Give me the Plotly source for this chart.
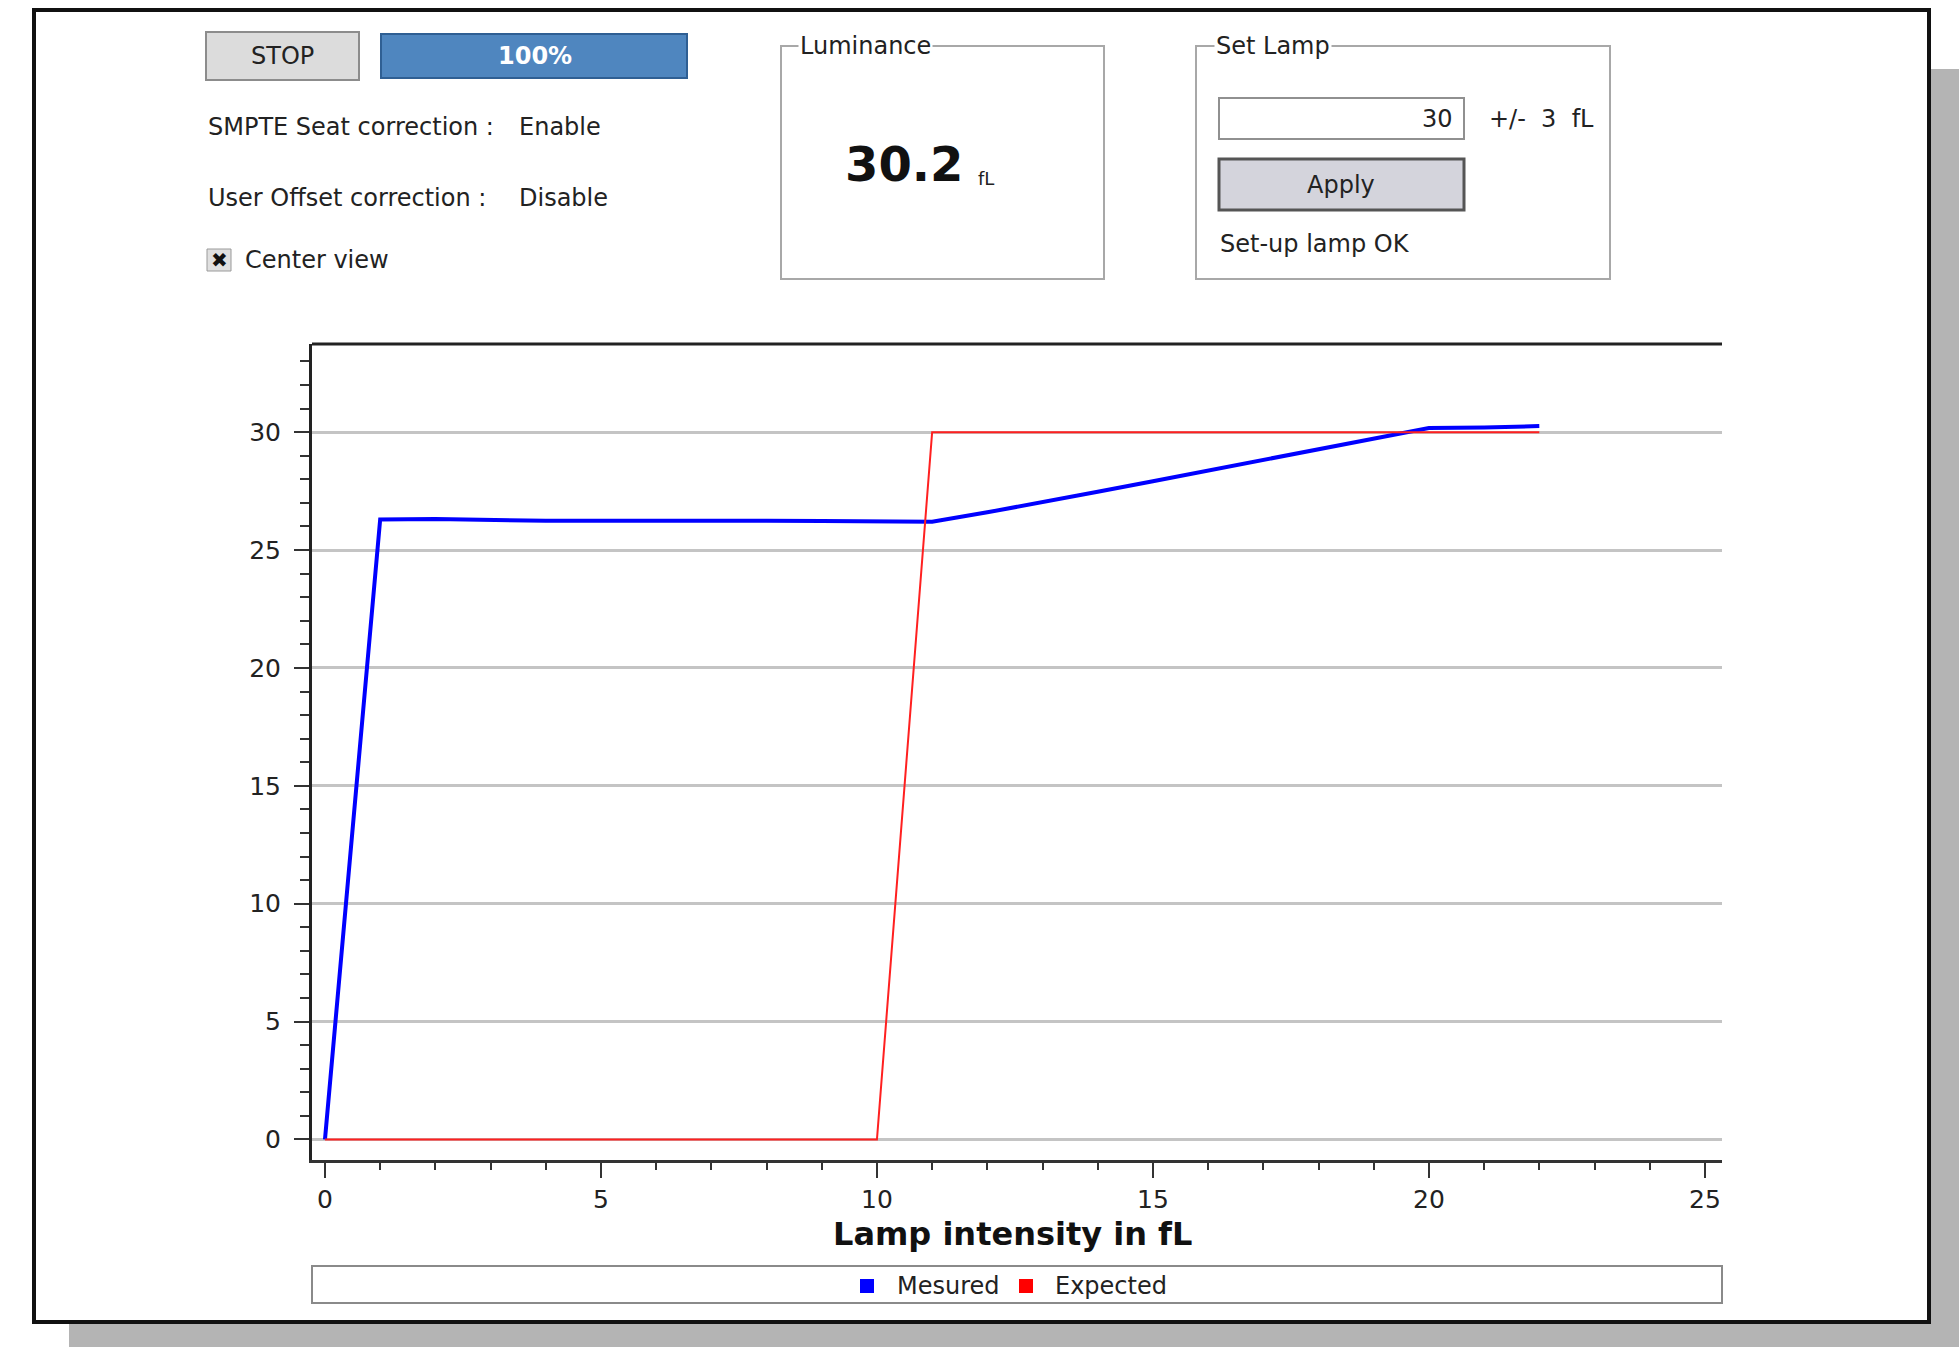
import plotly.graph_objects as go

# data
lamp_measured = list(range(23))
lum_measured = [0, 26.3, 26.32, 26.27, 26.24, 26.24, 26.25, 26.26, 26.24, 26.23, 26.22, 26.2,
                26.6, 27.02, 27.47, 27.92, 28.37, 28.82, 29.27, 29.72, 30.18, 30.2, 30.26]
lamp_expected = [0, 10, 11, 22]
lum_expected = [0, 0, 30, 30]
x_ticks = [0, 5, 10, 15, 20, 25]
y_ticks = [0, 5, 10, 15, 20, 25, 30]

W, H = 1959, 1347
FONT = "DejaVu Sans"
TXT = "#222222"


def px(x):
    return x / W


def py(y):
    return 1 - y / H


def box(x0, y0, x1, y1, fill="rgba(0,0,0,0)", line="#a8a8a8", width=2):
    return dict(type="rect", xref="paper", yref="paper", layer="below",
                x0=px(x0), x1=px(x1), y0=py(y1), y1=py(y0),
                fillcolor=fill, line=dict(color=line, width=width))


def label(x, y, text, size=24, anchor="left", color=TXT, bold=False, bg=None):
    if bold:
        text = "<b>" + text + "</b>"
    a = dict(xref="paper", yref="paper", x=px(x), y=py(y), text=text, showarrow=False,
             xanchor=anchor, yanchor="middle", font=dict(family=FONT, size=size, color=color))
    if bg:
        a["bgcolor"] = bg
    return a


fig = go.Figure()

fig.add_trace(go.Scatter(
    x=lamp_measured, y=lum_measured, mode="lines", name="Mesured",
    line=dict(color="#0000ff", width=4)
))
fig.add_trace(go.Scatter(
    x=lamp_expected, y=lum_expected, mode="lines", name="Expected",
    line=dict(color="#ff2020", width=2)
))

shapes = [
    # window shadow + frame
    dict(type="rect", xref="paper", yref="paper", layer="below",
         x0=px(69), x1=1, y0=0, y1=py(69), fillcolor="#b4b4b4", line=dict(width=0)),
    dict(type="rect", xref="paper", yref="paper", layer="below",
         x0=px(34), x1=px(1929), y0=py(1322), y1=py(10), fillcolor="white",
         line=dict(color="#111111", width=4)),
    # buttons / widgets
    box(206, 32, 359, 80, fill="#dcdcdc", line="#8c8c8c"),
    box(381, 34, 687, 78, fill="#4f86bf", line="#2f5f93"),
    box(207, 249, 231, 271, fill="#e0e0e0", line="#9a9a9a", width=1),
    box(781, 46, 1104, 279),
    box(1196, 46, 1610, 279),
    box(1219, 98, 1464, 139, fill="white", line="#909090"),
    box(1219, 159, 1464, 210, fill="#d4d4dc", line="#555555", width=3),
    # plot top border
    dict(type="line", xref="paper", yref="paper", x0=px(312), x1=px(1722), y0=py(344), y1=py(344),
         line=dict(color="#222222", width=3)),
    # legend box and markers
    box(312, 1266, 1722, 1303, fill="white", line="#8a8a8a"),
    dict(type="rect", xref="paper", yref="paper", x0=px(860), x1=px(874), y0=py(1293), y1=py(1279),
         fillcolor="#0000ff", line=dict(width=0)),
    dict(type="rect", xref="paper", yref="paper", x0=px(1019), x1=px(1033), y0=py(1293), y1=py(1279),
         fillcolor="#ff0000", line=dict(width=0)),
]

annotations = [
    label(282, 56, "STOP", anchor="center"),
    label(535, 56, "100%", anchor="center", color="white", bold=True),
    label(206, 127, "SMPTE Seat correction :"),
    label(517, 127, "Enable"),
    label(206, 198, "User Offset correction :"),
    label(517, 198, "Disable"),
    label(219, 260, "✖", size=20, anchor="center", color="#111111"),
    label(243, 260, "Center view"),
    label(798, 46, "Luminance", bg="white"),
    label(843, 164, "30.2", size=48, color="#111111", bold=True),
    label(976, 178, "fL", size=18),
    label(1214, 46, "Set Lamp", bg="white"),
    label(1455, 119, "30", anchor="right"),
    label(1487, 119, "+/-  3  fL"),
    label(1341, 185, "Apply", anchor="center"),
    label(1218, 244, "Set-up lamp OK"),
    label(1012, 1234, "Lamp intensity in fL", size=32, anchor="center", color="#111111", bold=True),
    label(895, 1286, "Mesured"),
    label(1053, 1286, "Expected"),
]

fig.update_layout(
    width=W, height=H,
    margin=dict(l=0, r=0, t=0, b=0),
    paper_bgcolor="white",
    plot_bgcolor="rgba(0,0,0,0)",
    showlegend=False,
    shapes=shapes,
    annotations=annotations,
    xaxis=dict(
        domain=[px(312), px(1722)],
        range=[-0.235, 25.31],
        tickvals=x_ticks,
        showgrid=False, zeroline=False,
        showline=True, linecolor="#333333", linewidth=3,
        ticks="outside", ticklen=15, tickwidth=2, tickcolor="#333333",
        minor=dict(dtick=1, tick0=0, ticks="outside", ticklen=7, tickwidth=2, tickcolor="#333333"),
        tickfont=dict(family=FONT, size=25, color=TXT),
    ),
    yaxis=dict(
        domain=[py(1160), py(344)],
        range=[-0.87, 33.74],
        tickvals=y_ticks,
        showgrid=True, gridcolor="#c4c4c4", gridwidth=3,
        zeroline=False,
        showline=True, linecolor="#222222", linewidth=3,
        ticks="outside", ticklen=15, tickwidth=2, tickcolor="#333333",
        ticklabelstandoff=8,
        minor=dict(dtick=1, tick0=0, ticks="outside", ticklen=9, tickwidth=2, tickcolor="#333333",
                   showgrid=False),
        tickfont=dict(family=FONT, size=25, color=TXT),
    ),
)

fig.write_html("out.html", config={"displayModeBar": False},
               post_script="document.body.style.margin='0';")
